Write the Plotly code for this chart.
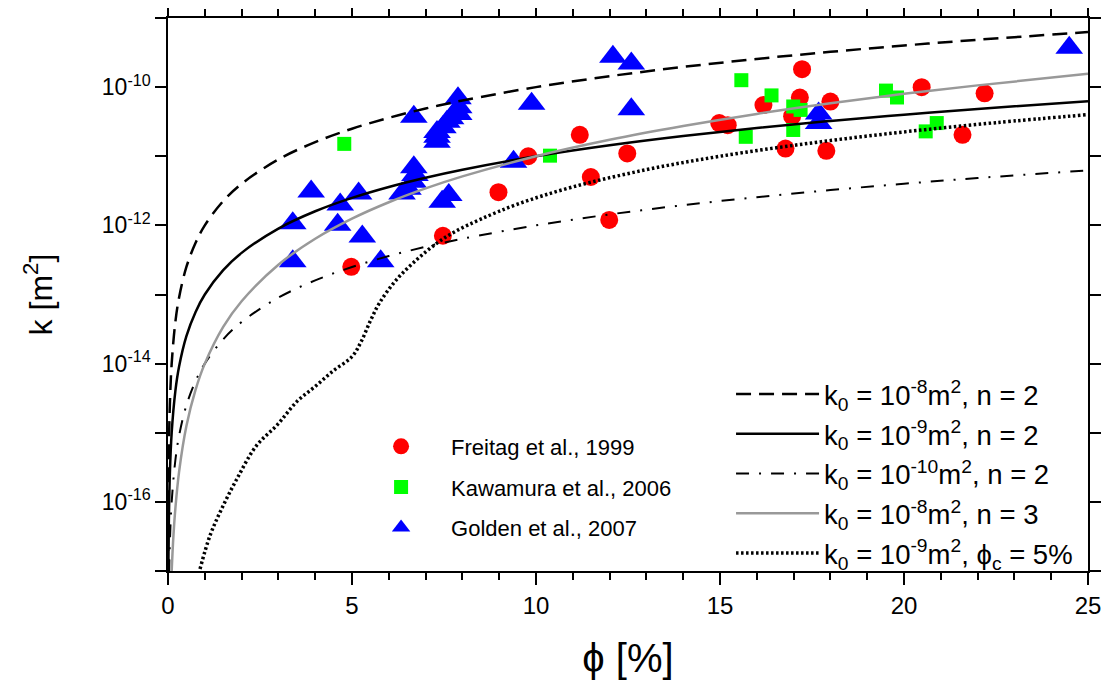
import plotly.graph_objects as go

# ---------------- data ----------------
freitag_phi = [4.98, 7.47, 8.98, 9.79, 11.19, 11.49, 11.99, 12.48, 14.98, 15.21,
               16.18, 16.78, 16.96, 17.17, 17.23, 17.89, 18.0, 20.48, 21.59, 22.19]
freitag_k = [2.51e-13, 7.08e-13, 3.02e-12, 1.0e-11, 2.04e-11, 5.01e-12, 1.20e-12, 1.10e-11, 3.02e-11, 2.82e-11,
             5.50e-11, 1.29e-11, 3.80e-11, 7.08e-11, 1.82e-10, 1.20e-11, 6.17e-11, 1.0e-10, 2.04e-11, 8.13e-11]

kawamura_phi = [4.79, 10.38, 15.58, 15.70, 16.40, 16.99, 16.99, 17.19, 19.51, 19.81, 20.59, 20.89]
kawamura_k = [1.51e-11, 1.02e-11, 1.26e-10, 1.91e-11, 7.59e-11, 5.25e-11, 2.40e-11, 4.68e-11,
              8.91e-11, 7.08e-11, 2.29e-11, 3.02e-11]

golden_phi = [3.39, 3.39, 3.89, 4.61, 4.68, 5.18, 5.28, 5.78, 6.36, 6.52, 6.68, 6.71, 6.66, 6.68,
              7.31, 7.31, 7.31, 7.47, 7.58, 7.68, 7.88, 7.90, 7.90, 7.63, 7.45, 9.39, 9.88,
              12.09, 12.59, 12.59, 17.68, 17.68, 24.49]
golden_k = [1.07e-12, 3.02e-13, 3.09e-12, 1.02e-12, 2.0e-12, 2.88e-12, 6.92e-13, 3.02e-13, 2.88e-12,
            3.39e-12, 6.92e-12, 5.37e-12, 4.27e-12, 3.72e-11, 2.24e-11, 1.91e-11, 1.62e-11, 2.63e-11,
            3.16e-11, 3.55e-11, 6.92e-11, 5.13e-11, 4.07e-11, 2.75e-12, 2.19e-12, 8.32e-12, 5.75e-11,
            2.75e-10, 2.19e-10, 4.79e-11, 4.17e-11, 3.02e-11, 3.72e-10]

# model curves
curve_phi = [0.003, 0.01, 0.02, 0.05, 0.1, 0.2, 0.3, 0.5, 0.75, 1, 1.5, 2, 3, 4, 5, 6, 7, 8,
             10, 12, 14, 16, 18, 20, 22, 25]
k8_n2 = [9e-18, 1e-16, 4e-16, 2.5e-15, 1e-14, 4e-14, 9e-14, 2.5e-13, 5.6e-13, 1e-12, 2.25e-12, 4e-12,
         9e-12, 1.6e-11, 2.5e-11, 3.6e-11, 4.9e-11, 6.4e-11, 1e-10, 1.44e-10, 1.96e-10, 2.56e-10,
         3.24e-10, 4e-10, 4.84e-10, 6.25e-10]
k9_n2 = [9e-19, 1e-17, 4e-17, 2.5e-16, 1e-15, 4e-15, 9e-15, 2.5e-14, 5.6e-14, 1e-13, 2.25e-13, 4e-13,
         9e-13, 1.6e-12, 2.5e-12, 3.6e-12, 4.9e-12, 6.4e-12, 1e-11, 1.44e-11, 1.96e-11, 2.56e-11,
         3.24e-11, 4e-11, 4.84e-11, 6.25e-11]
k10_n2 = [9e-20, 1e-18, 4e-18, 2.5e-17, 1e-16, 4e-16, 9e-16, 2.5e-15, 5.6e-15, 1e-14, 2.25e-14, 4e-14,
          9e-14, 1.6e-13, 2.5e-13, 3.6e-13, 4.9e-13, 6.4e-13, 1e-12, 1.44e-12, 1.96e-12, 2.56e-12,
          3.24e-12, 4e-12, 4.84e-12, 6.25e-12]

n3_phi = [0.08, 0.1, 0.15, 0.2, 0.3, 0.5, 0.75, 1, 1.5, 2, 3, 4, 5, 6, 7, 8, 10, 12, 14, 16, 18,
          20, 22, 25]
k8_n3 = [5.1e-18, 1e-17, 3.4e-17, 8e-17, 2.7e-16, 1.25e-15, 4.2e-15, 1e-14, 3.4e-14, 8e-14, 2.7e-13,
         6.4e-13, 1.25e-12, 2.16e-12, 3.43e-12, 5.12e-12, 1e-11, 1.73e-11, 2.74e-11, 4.1e-11,
         5.83e-11, 8e-11, 1.06e-10, 1.56e-10]

perc_phi = [0.87, 1.14, 1.45, 1.86, 2.4, 2.98, 3.5, 4.0, 4.5, 5.0, 5.25, 5.5, 5.75, 6.2, 6.75,
            7.3, 7.8, 8.5, 9.5, 11, 13, 15, 17.5, 20, 22.5, 25]
perc_k = [1.07e-17, 3.24e-17, 7.76e-17, 2.09e-16, 6.46e-16, 1.32e-15, 2.82e-15, 4.68e-15, 7.94e-15,
          1.26e-14, 2.09e-14, 4.17e-14, 7.59e-14, 1.62e-13, 3.16e-13, 5.5e-13, 8.13e-13, 1.23e-12,
          2.03e-12, 3.6e-12, 6.4e-12, 1.0e-11, 1.56e-11, 2.25e-11, 3.06e-11, 4.0e-11]

y_tickvals = [1e-17, 1e-16, 1e-15, 1e-14, 1e-13, 1e-12, 1e-11, 1e-10, 1e-9]
y_ticktext = ["", "10<sup>-16</sup>", "", "10<sup>-14</sup>", "", "10<sup>-12</sup>", "",
              "10<sup>-10</sup>", ""]
x_tickvals = [0, 5, 10, 15, 20, 25]

FONT = "Liberation Sans, Arial, sans-serif"

fig = go.Figure()

# data sets
fig.add_trace(go.Scatter(x=freitag_phi, y=freitag_k, mode="markers", name="Freitag et al., 1999",
                         marker=dict(symbol="circle", size=18, color="#ff0000",
                                     line=dict(width=0)),
                         legend="legend", legendgroup="a"))
fig.add_trace(go.Scatter(x=kawamura_phi, y=kawamura_k, mode="markers", name="Kawamura et al., 2006",
                         marker=dict(symbol="square", size=14, color="#00ff00", line=dict(width=0)),
                         legend="legend", legendgroup="b"))
fig.add_trace(go.Scatter(x=golden_phi, y=golden_k, mode="markers", name="Golden et al., 2007",
                         marker=dict(symbol="triangle-up", size=24, color="#0000ff", line=dict(width=0)),
                         legend="legend", legendgroup="c"))

# model curves
fig.add_trace(go.Scatter(x=curve_phi, y=k8_n2, mode="lines", line_shape="spline",
                         name="k<sub>0</sub> = 10<sup>-8</sup>m<sup>2</sup>, n = 2",
                         line=dict(color="black", width=2.5, dash="15px,8px"),
                         legend="legend2", legendgroup="d"))
fig.add_trace(go.Scatter(x=curve_phi, y=k9_n2, mode="lines", line_shape="spline",
                         name="k<sub>0</sub> = 10<sup>-9</sup>m<sup>2</sup>, n = 2",
                         line=dict(color="black", width=2.5),
                         legend="legend2", legendgroup="e"))
fig.add_trace(go.Scatter(x=curve_phi, y=k10_n2, mode="lines", line_shape="spline",
                         name="k<sub>0</sub> = 10<sup>-10</sup>m<sup>2</sup>, n = 2",
                         line=dict(color="black", width=2, dash="13px,10px,2px,10px"),
                         legend="legend2", legendgroup="f"))
fig.add_trace(go.Scatter(x=n3_phi, y=k8_n3, mode="lines", line_shape="spline",
                         name="k<sub>0</sub> = 10<sup>-8</sup>m<sup>2</sup>, n = 3",
                         line=dict(color="#999999", width=2.5),
                         legend="legend2", legendgroup="g"))
fig.add_trace(go.Scatter(x=perc_phi, y=perc_k, mode="lines", line_shape="spline",
                         name="k<sub>0</sub> = 10<sup>-9</sup>m<sup>2</sup>, ϕ<sub>c</sub> = 5%",
                         line=dict(color="black", width=3.5, dash="2.5px,2.5px"),
                         legend="legend2", legendgroup="h"))

# the page body has an 8px margin on every side, so the figure is offset by (8, 8);
# size it so the page fits in the 1109x693 window without scrollbars
fig.update_layout(
    width=1093, height=677,
    margin=dict(l=160, r=13, t=10, b=114),
    paper_bgcolor="white", plot_bgcolor="white",
    font=dict(family=FONT, size=22, color="black"),
    showlegend=True,
    legend=dict(x=0.199, y=0.263, xanchor="left", yanchor="top",
                bgcolor="rgba(0,0,0,0)", borderwidth=0, itemwidth=90,
                font=dict(family=FONT, size=22, color="black"),
                traceorder="grouped", tracegroupgap=9),
    legend2=dict(x=0.612, y=0.364, xanchor="left", yanchor="top",
                 bgcolor="rgba(0,0,0,0)", borderwidth=0, itemwidth=83,
                 font=dict(family=FONT, size=27.5, color="black"),
                 traceorder="grouped", tracegroupgap=1),
    xaxis=dict(range=[0, 25], tickvals=x_tickvals, ticks="outside", ticklen=12, tickwidth=1.5,
               tickcolor="black", showline=True, linecolor="black", linewidth=1.5, mirror="ticks",
               showgrid=False, zeroline=False, automargin=False, ticklabeloverflow="allow",
               minor=dict(dtick=1, ticks="outside", ticklen=7, tickwidth=1.5, tickcolor="black",
                          showgrid=False),
               tickfont=dict(family=FONT, size=24, color="black"),
               title=dict(text="ϕ [%]", font=dict(family=FONT, size=40, color="black"),
                          standoff=26)),
    yaxis=dict(type="log", range=[-17, -9], tickvals=y_tickvals, ticktext=y_ticktext,
               ticks="outside", ticklen=11, tickwidth=1.5, tickcolor="black",
               showline=True, linecolor="black", linewidth=1.5, mirror="ticks",
               showgrid=False, zeroline=False, automargin=False,
               tickfont=dict(family=FONT, size=23, color="black"),
               title=dict(text="k [m<sup>2</sup>]", font=dict(family=FONT, size=32, color="black"),
                          standoff=40)),
)

fig.write_html("out.html")
